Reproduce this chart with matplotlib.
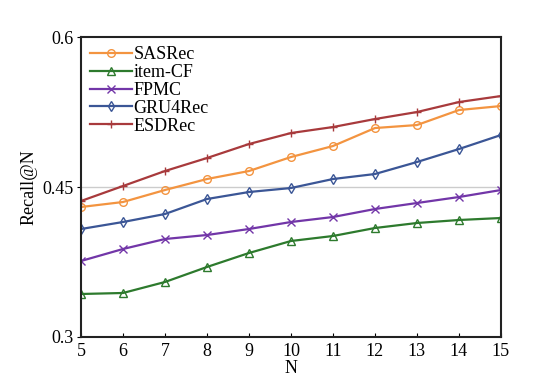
import numpy as np
import matplotlib
matplotlib.use("Agg")
import matplotlib.pyplot as plt

plt.rcParams["font.family"] = ["Liberation Serif", "DejaVu Serif"]

# Recall@N for each model, N = 5..15
n_values = [5, 6, 7, 8, 9, 10, 11, 12, 13, 14, 15]
sasrec = [0.430, 0.435, 0.447, 0.458, 0.466, 0.480, 0.491, 0.509, 0.512, 0.527, 0.531]
item_cf = [0.343, 0.344, 0.355, 0.370, 0.384, 0.396, 0.401, 0.409, 0.414, 0.417, 0.419]
fpmc = [0.376, 0.388, 0.398, 0.402, 0.408, 0.415, 0.420, 0.428, 0.434, 0.440, 0.447]
gru4rec = [0.408, 0.415, 0.423, 0.438, 0.445, 0.449, 0.458, 0.463, 0.475, 0.488, 0.502]
esdrec = [0.436, 0.451, 0.466, 0.479, 0.493, 0.504, 0.510, 0.518, 0.525, 0.535, 0.541]

series = [
    ("SASRec", sasrec, "#f39440", "o"),
    ("item-CF", item_cf, "#2d7a2d", "^"),
    ("FPMC", fpmc, "#7236a8", "x"),
    ("GRU4Rec", gru4rec, "#3b5696", "d"),
    ("ESDRec", esdrec, "#a83a3c", "+"),
]

fig = plt.figure(figsize=(5.49, 3.86), dpi=100)
ax = fig.add_axes([0.1475, 0.127, 0.765, 0.777])

ax.axhline(0.45, color="#cccccc", linewidth=1.0, zorder=0)

for name, vals, col, mk in series:
    ax.plot(n_values, vals, color=col, linewidth=1.6, marker=mk,
            markersize=5.5, markerfacecolor="none", markeredgecolor=col,
            markeredgewidth=1.0, label=name)

ax.set_xlim(5, 15)
ax.set_ylim(0.3, 0.6)
ax.set_xticks(n_values)
ax.set_yticks([0.3, 0.45, 0.6])
ax.set_yticklabels(["0.3", "0.45", "0.6"])
ax.tick_params(axis="x", direction="in", length=3, labelsize=13, pad=4)
ax.tick_params(axis="y", direction="out", length=3, labelsize=13, pad=2)
for s in ax.spines.values():
    s.set_color("#222222")
    s.set_linewidth(1.5)

ax.set_xlabel("N", fontsize=13, labelpad=0)
ax.set_ylabel("Recall@N", fontsize=13, labelpad=4)

ax.legend(loc="upper left", frameon=False, fontsize=13, handlelength=2.3,
          handletextpad=0.1, labelspacing=0.05, borderaxespad=0.3,
          borderpad=0.2)

fig.savefig("out.png", dpi=100)
